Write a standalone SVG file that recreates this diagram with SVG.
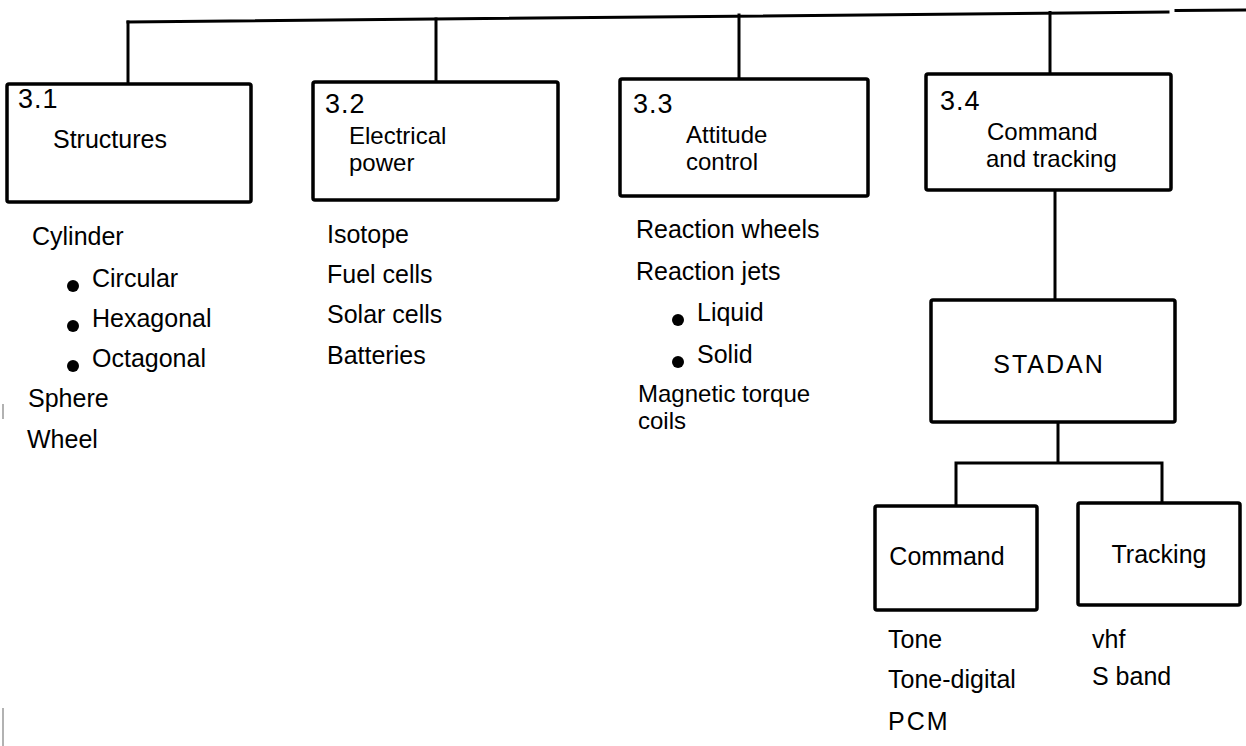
<svg xmlns="http://www.w3.org/2000/svg" width="1246" height="746" viewBox="0 0 1246 746">
<style>
.box{fill:#fff;stroke:#000;stroke-width:3.5}
.ln{fill:none;stroke:#000;stroke-width:3;stroke-linecap:square}
text{font-family:"Liberation Sans",Arial,sans-serif;font-size:25px;fill:#000}
.two{font-size:24px}
.num{font-size:27px;letter-spacing:1px}
.dot{fill:#000}
</style>
<rect width="1246" height="746" fill="#fff"/>
<g id="connectors">
<path class="ln" d="M128,22 L1168,12"/>
<path class="ln" d="M1176,10.5 L1246,10"/>
<path class="ln" d="M128,22 V84"/>
<path class="ln" d="M436,19 V82"/>
<path class="ln" d="M739,15 V79"/>
<path class="ln" d="M1050,12.5 V74"/>
<path class="ln" d="M1055,190 V300"/>
<path class="ln" d="M1058,422 V463 M956,463 H1162 M956,463 V506 M1162,463 V503"/>
</g>
<g id="n31">
<rect class="box" x="7" y="84" width="244" height="118" rx="2"/>
<text class="num" x="18" y="108">3.1</text>
<text x="53" y="148">Structures</text>
</g>
<g id="n31-items">
<text x="32" y="245">Cylinder</text>
<circle class="dot" cx="73" cy="286" r="6"/><text x="92" y="287">Circular</text>
<circle class="dot" cx="73" cy="326" r="6"/><text x="92" y="327">Hexagonal</text>
<circle class="dot" cx="73" cy="366" r="6"/><text x="92" y="367">Octagonal</text>
<text x="28" y="407">Sphere</text>
<text x="27" y="448">Wheel</text>
</g>
<g id="n32">
<rect class="box" x="313" y="82" width="245" height="118" rx="2"/>
<text class="num" x="325" y="113">3.2</text>
<text class="two" x="349" y="144">Electrical</text>
<text class="two" x="349" y="171">power</text>
</g>
<g id="n32-items">
<text x="327" y="243">Isotope</text>
<text x="327" y="283">Fuel cells</text>
<text x="327" y="323">Solar cells</text>
<text x="327" y="364">Batteries</text>
</g>
<g id="n33">
<rect class="box" x="620" y="79" width="248" height="117" rx="2"/>
<text class="num" x="633" y="113">3.3</text>
<text class="two" x="686" y="143">Attitude</text>
<text class="two" x="686" y="170">control</text>
</g>
<g id="n33-items">
<text x="636" y="238">Reaction wheels</text>
<text x="636" y="280">Reaction jets</text>
<circle class="dot" cx="678" cy="320" r="6"/><text x="697" y="321">Liquid</text>
<circle class="dot" cx="678" cy="362" r="6"/><text x="697" y="363">Solid</text>
<text class="two" x="638" y="402">Magnetic torque</text>
<text class="two" x="638" y="429">coils</text>
</g>
<g id="n34">
<rect class="box" x="926" y="74" width="245" height="116" rx="2"/>
<text class="num" x="940" y="110">3.4</text>
<text class="two" x="987" y="140">Command</text>
<text class="two" x="986" y="167">and tracking</text>
</g>
<g id="stadan">
<rect class="box" x="931" y="300" width="244" height="122" rx="2"/>
<text x="1049" y="373" text-anchor="middle" letter-spacing="2">STADAN</text>
</g>
<g id="command">
<rect class="box" x="875" y="506" width="162" height="104" rx="2"/>
<text x="947" y="565" text-anchor="middle">Command</text>
</g>
<g id="command-items">
<text x="888" y="648">Tone</text>
<text x="888" y="688">Tone-digital</text>
<text x="888" y="730" letter-spacing="2">PCM</text>
</g>
<g id="tracking">
<rect class="box" x="1078" y="503" width="162" height="102" rx="2"/>
<text x="1159" y="563" text-anchor="middle">Tracking</text>
</g>
<g id="tracking-items">
<text x="1092" y="648">vhf</text>
<text x="1092" y="685">S band</text>
</g>
<g id="scan-marks" stroke="#999" stroke-width="1.5">
<path d="M3,404 V419"/>
<path d="M3,708 V746"/>
</g>
</svg>
